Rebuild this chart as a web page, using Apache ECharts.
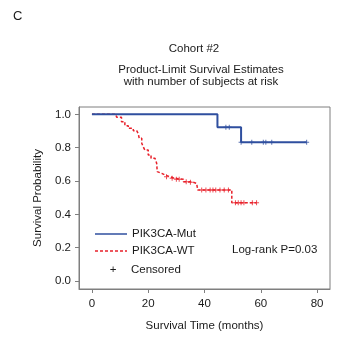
<!DOCTYPE html>
<html>
<head>
<meta charset="utf-8">
<script src="https://cdn.jsdelivr.net/npm/echarts@6/dist/echarts.min.js"></script>
<style>
  html, body { margin: 0; padding: 0; background: #fff; }
  #chart { width: 350px; height: 350px; }
</style>
</head>
<body>
<div id="chart"></div>
<script>
// Kaplan-Meier steps: time (months) and survival after that time
const mutTime = [0, 44.6, 53.0, 76.3]
const mutSurv = [1.0, 0.923, 0.833, 0.833]
const wtTime = [0, 8.4, 8.8, 10.5, 11.7, 12.9, 14.7, 15.9, 16.5, 16.8, 17.7, 18.2, 18.8, 20.0, 21.0, 22.4, 23.0, 23.2, 23.6, 24.8, 26.0, 27.7, 29.5, 32.5, 34.8, 36.0, 37.2, 37.6, 49.7, 58.5]
const wtSurv = [1.0, 0.99, 0.982, 0.956, 0.932, 0.916, 0.902, 0.89, 0.882, 0.856, 0.826, 0.806, 0.786, 0.756, 0.736, 0.726, 0.706, 0.656, 0.646, 0.636, 0.626, 0.616, 0.61, 0.596, 0.592, 0.586, 0.576, 0.546, 0.47, 0.47]

// censored observations
const mutCensTime = [47.6, 48.8, 53.0, 56.8, 60.9, 61.8, 63.9, 76.3]
const mutCensSurv = [0.923, 0.923, 0.833, 0.833, 0.833, 0.833, 0.833, 0.833]
const wtCensTime = [26.5, 28.5, 30.0, 31.0, 33.5, 35.0, 39.0, 40.5, 42.0, 43.0, 44.0, 45.5, 47.0, 48.5, 51.0, 52.0, 53.0, 54.0, 57.0, 58.5]
const wtCensSurv = [0.626, 0.616, 0.61, 0.61, 0.596, 0.592, 0.546, 0.546, 0.546, 0.546, 0.546, 0.546, 0.546, 0.546, 0.47, 0.47, 0.47, 0.47, 0.47, 0.47]

const xTicks = [0, 20, 40, 60, 80]
const yTicks = [0, 0.2, 0.4, 0.6, 0.8, 1.0]

const blue = '#2f4f9f'
const red = '#e8202a'
const font = 'Liberation Sans, Arial, sans-serif'
const txt = '#1a1a1a'
const plus = 'path://M2,0H3V2H5V3H3V5H2V3H0V2H2Z'

const zip = (a, b) => a.map((v, i) => [v, b[i]])

const chart = echarts.init(document.getElementById('chart'))
chart.setOption({
  animation: false,
  backgroundColor: '#fff',
  grid: {
    left: 79, right: 20, top: 107, bottom: 61,
    show: true, borderColor: '#7f7f7f', borderWidth: 1
  },
  xAxis: {
    type: 'value', min: -4.6, max: 84.6,
    name: 'Survival Time (months)', nameLocation: 'middle', nameGap: 31,
    nameTextStyle: { fontFamily: font, fontSize: 11.5, color: txt },
    axisLine: { show: true, onZero: false, lineStyle: { color: '#7f7f7f' } },
    axisTick: { show: true, length: 4, customValues: xTicks, lineStyle: { color: '#7f7f7f' } },
    axisLabel: { customValues: xTicks, margin: 9, fontFamily: font, fontSize: 11.5, color: txt },
    splitLine: { show: false }
  },
  yAxis: {
    type: 'value', min: -0.048, max: 1.044,
    name: 'Survival Probability', nameLocation: 'middle', nameGap: 32,
    nameTextStyle: { fontFamily: font, fontSize: 11.5, color: txt },
    axisLine: { show: true, onZero: false, lineStyle: { color: '#7f7f7f' } },
    axisTick: { show: true, length: 4, customValues: yTicks, lineStyle: { color: '#7f7f7f' } },
    axisLabel: { customValues: yTicks, margin: 8, fontFamily: font, fontSize: 11.5, color: txt,
      formatter: v => v.toFixed(1) },
    splitLine: { show: false }
  },
  series: [
    {
      name: 'PIK3CA-WT', type: 'line', step: 'end', symbol: 'none',
      data: zip(wtTime, wtSurv),
      lineStyle: { color: red, width: 1.5, type: [3, 2] }
    },
    {
      name: 'PIK3CA-Mut', type: 'line', step: 'end', symbol: 'none',
      data: zip(mutTime, mutSurv),
      lineStyle: { color: blue, width: 2 }
    },
    {
      type: 'scatter', symbol: plus, symbolSize: 5,
      data: zip(wtCensTime, wtCensSurv),
      itemStyle: { color: red }
    },
    {
      type: 'scatter', symbol: plus, symbolSize: 5,
      data: zip(mutCensTime, mutCensSurv),
      itemStyle: { color: blue }
    }
  ],
  graphic: [
    { type: 'text', left: 13, top: 10, style: { text: 'C', font: '13px ' + font, fill: txt } },
    { type: 'text', x: 194, y: 49, style: { text: 'Cohort #2', font: '11.5px ' + font, fill: txt, align: 'center', verticalAlign: 'middle' } },
    { type: 'text', x: 201, y: 70, style: { text: 'Product-Limit Survival Estimates', font: '11.5px ' + font, fill: txt, align: 'center', verticalAlign: 'middle' } },
    { type: 'text', x: 201, y: 82, style: { text: 'with number of subjects at risk', font: '11.5px ' + font, fill: txt, align: 'center', verticalAlign: 'middle' } },
    { type: 'line', shape: { x1: 95, y1: 234, x2: 127, y2: 234 }, style: { stroke: blue, lineWidth: 1.5 } },
    { type: 'line', shape: { x1: 95, y1: 251, x2: 127, y2: 251 }, style: { stroke: red, lineWidth: 1.5, lineDash: [3, 2] } },
    { type: 'text', x: 113, y: 270, style: { text: '+', font: '11.5px ' + font, fill: txt, align: 'center', verticalAlign: 'middle' } },
    { type: 'text', x: 132, y: 234, style: { text: 'PIK3CA-Mut', font: '11.5px ' + font, fill: txt, verticalAlign: 'middle' } },
    { type: 'text', x: 132, y: 251, style: { text: 'PIK3CA-WT', font: '11.5px ' + font, fill: txt, verticalAlign: 'middle' } },
    { type: 'text', x: 131, y: 270, style: { text: 'Censored', font: '11.5px ' + font, fill: txt, verticalAlign: 'middle' } },
    { type: 'text', x: 232, y: 250, style: { text: 'Log-rank P=0.03', font: '11.5px ' + font, fill: txt, verticalAlign: 'middle' } }
  ]
})
</script>
</body>
</html>
